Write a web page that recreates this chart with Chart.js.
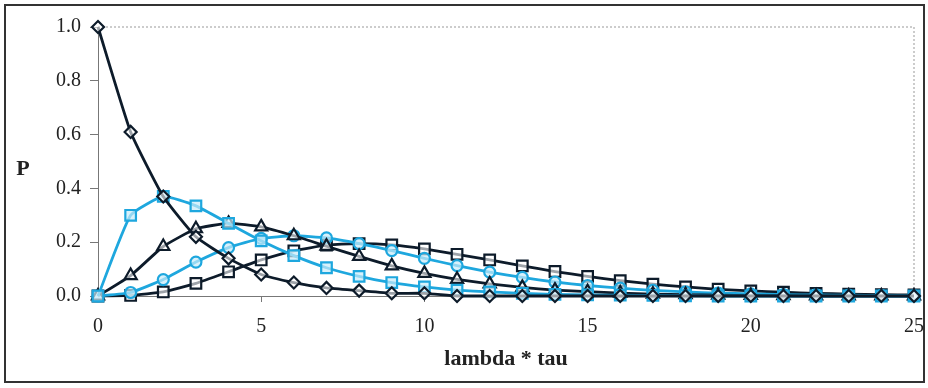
<!DOCTYPE html>
<html>
<head>
<meta charset="utf-8">
<script src="https://cdn.jsdelivr.net/npm/chart.js@4"></script>
<style>
  html, body { margin: 0; padding: 0; background: #fff; }
  #wrap { position: relative; width: 928px; height: 388px; }
  #frame { position: absolute; left: 4px; top: 4px; width: 917px; height: 375px; border: 2px solid #333; pointer-events: none; }
</style>
</head>
<body>
<div id="wrap">
  <canvas id="chart" width="928" height="388"></canvas>
  <div id="frame"></div>
</div>
<script>
// ---- data ----
const xValues = [0,1,2,3,4,5,6,7,8,9,10,11,12,13,14,15,16,17,18,19,20,21,22,23,24,25];

const pDiamond = [1.00,0.61,0.37,0.22,0.14,0.08,0.05,0.03,0.02,0.01,0.01,0,0,0,0,0,0,0,0,0,0,0,0,0,0,0];
const pSquareLight = [0,0.30,0.37,0.335,0.27,0.205,0.15,0.105,0.073,0.05,0.034,0.022,0.015,0.01,0.006,0.004,0.003,0.002,0.001,0,0,0,0,0,0,0];
const pTriangle = [0,0.076,0.184,0.25,0.27,0.257,0.224,0.185,0.147,0.112,0.084,0.062,0.045,0.032,0.022,0.016,0.011,0.007,0.005,0.003,0.002,0.001,0,0,0,0];
const pCircle = [0,0.013,0.061,0.126,0.18,0.214,0.224,0.216,0.195,0.169,0.14,0.113,0.089,0.069,0.052,0.039,0.029,0.021,0.015,0.011,0.008,0.005,0.004,0.003,0.002,0.001];
const pSquareDark = [0,0.002,0.015,0.047,0.09,0.134,0.168,0.189,0.195,0.19,0.175,0.155,0.134,0.112,0.091,0.073,0.057,0.044,0.034,0.025,0.019,0.014,0.01,0.007,0.005,0.004];

const xTicks = [0,5,10,15,20,25];
const yTicks = [0,0.2,0.4,0.6,0.8,1.0];

const DARK = "#0d1b2a";
const LIGHT = "#1ea7de";

function pts(arr) {
  return arr.map((y, i) => ({ x: xValues[i], y }));
}

function series(label, arr, color, style, radius, fillCol) {
  return {
    label,
    data: pts(arr),
    borderColor: color,
    backgroundColor: fillCol,
    borderWidth: 2.8,
    pointStyle: style,
    pointRadius: radius,
    pointBorderWidth: 2.2,
    pointBorderColor: color,
    pointBackgroundColor: fillCol,
    tension: 0.15,
    clip: false,
    fill: false
  };
}

// dotted top/right border + upright "P" label
const extras = {
  id: "extras",
  beforeDatasetsDraw(chart) {
    const { ctx, chartArea: a } = chart;
    ctx.save();
    ctx.strokeStyle = "#999";
    ctx.lineWidth = 1;
    ctx.setLineDash([2, 2]);
    ctx.beginPath();
    ctx.moveTo(a.left, a.top);
    ctx.lineTo(a.right, a.top);
    ctx.lineTo(a.right, a.bottom);
    ctx.stroke();
    ctx.restore();
  },
  afterDraw(chart) {
    const { ctx, chartArea: a } = chart;
    ctx.save();
    ctx.fillStyle = "#222";
    ctx.font = "bold 22px 'Liberation Serif'";
    ctx.textAlign = "center";
    ctx.textBaseline = "middle";
    ctx.fillText("P", 23, (a.top + a.bottom) / 2 + 8);
    ctx.restore();
  }
};

new Chart(document.getElementById("chart"), {
  type: "line",
  data: {
    datasets: [
      series("n=0", pDiamond, DARK, "rectRot", 6, "rgba(255,255,255,0.6)"),
      series("n=1", pSquareLight, LIGHT, "rect", 7.5, "rgba(200,235,250,0.7)"),
      series("n=2", pTriangle, DARK, "triangle", 7, "rgba(255,255,255,0.6)"),
      series("n=3", pCircle, LIGHT, "circle", 5.5, "rgba(200,235,250,0.7)"),
      series("n=4", pSquareDark, DARK, "rect", 7.5, "rgba(255,255,255,0.6)")
    ]
  },
  options: {
    responsive: false,
    animation: false,
    layout: { autoPadding: false, padding: { top: 27, right: 14, bottom: 11, left: 0 } },
    plugins: {
      legend: { display: false },
      tooltip: { enabled: false }
    },
    scales: {
      x: {
        type: "linear",
        min: 0,
        max: 25,
        afterBuildTicks: s => { s.ticks = xTicks.map(v => ({ value: v })); },
        afterFit: s => { s.height = 388 - 296 - 11; s.paddingRight = 0; s.paddingLeft = 0; },
        grid: { drawOnChartArea: false, drawTicks: true, tickLength: 6, color: "#777" },
        border: { color: "#777", width: 1 },
        ticks: { color: "#222", padding: 13, font: { family: "'Liberation Serif'", size: 20 } },
        title: {
          display: true,
          text: "lambda * tau",
          color: "#222",
          padding: { top: 12, bottom: 4 },
          font: { family: "'Liberation Serif'", size: 22, weight: "bold" }
        }
      },
      y: {
        min: 0,
        max: 1,
        afterBuildTicks: s => { s.ticks = yTicks.map(v => ({ value: v })); },
        afterFit: s => { s.width = 98; s.paddingTop = 0; s.paddingBottom = 0; },
        grid: { drawOnChartArea: false, drawTicks: true, tickLength: 8, color: "#777" },
        border: { color: "#777", width: 1 },
        ticks: {
          color: "#222",
          padding: 9,
          font: { family: "'Liberation Serif'", size: 20 },
          callback: v => v.toFixed(1)
        }
      }
    }
  },
  plugins: [extras]
});
</script>
</body>
</html>
